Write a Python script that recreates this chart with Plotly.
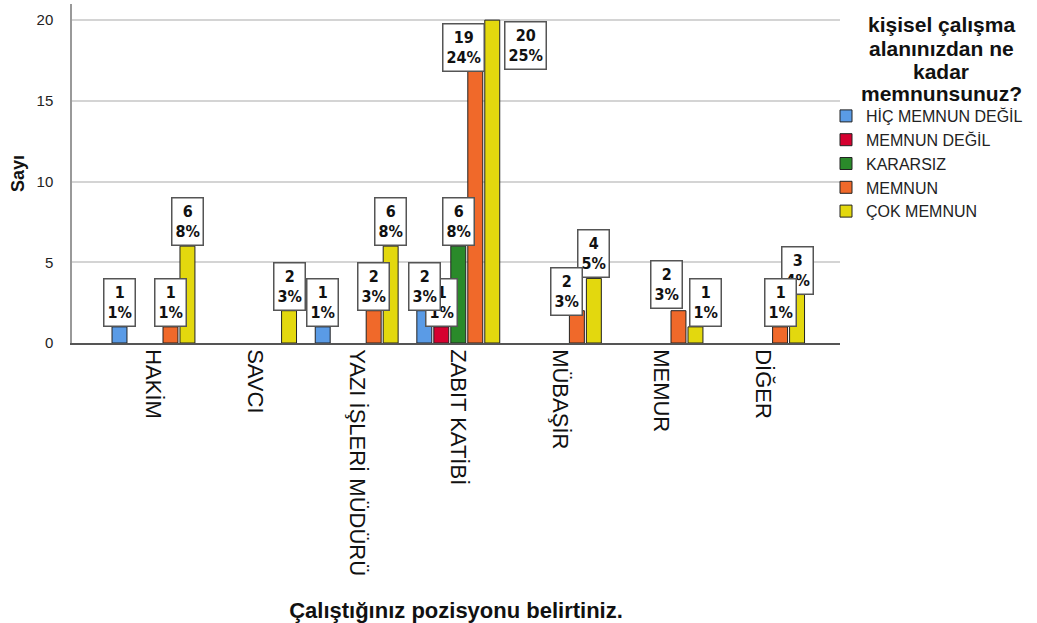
import math
import plotly.graph_objects as go

# ---- data ----
categories = ["HAKİM", "SAVCI", "YAZI İŞLERİ MÜDÜRÜ", "ZABIT KATİBİ", "MÜBAŞİR", "MEMUR", "DİĞER"]
series_names = ["HİÇ MEMNUN DEĞİL", "MEMNUN DEĞİL", "KARARSIZ", "MEMNUN", "ÇOK MEMNUN"]
hic_memnun_degil = [1, 0, 1, 2, 0, 0, 0]
memnun_degil = [0, 0, 0, 1, 0, 0, 0]
kararsiz = [0, 0, 0, 6, 0, 0, 0]
memnun = [1, 0, 2, 19, 2, 2, 1]
cok_memnun = [6, 2, 6, 20, 4, 1, 3]
y_ticks = [0, 5, 10, 15, 20]
legend_title_lines = ["kişisel çalışma", "alanınızdan ne", "kadar", "memnunsunuz?"]

series_values = [hic_memnun_degil, memnun_degil, kararsiz, memnun, cok_memnun]
colors = ["#5A9BE6", "#D5002F", "#2A8A2A", "#F0692A", "#E3D80E"]

total = sum(sum(s) for s in series_values)

# label nudges (pixels) to mimic the reference's collision handling
nudges = {
    (3, 3): (-12, -36),
    (3, 4): (33, -50),
    (4, 3): (-10, -5),
    (5, 3): (-12, 2),
    (5, 4): (10, 0),
}

W, H = 1037, 623
ML, MR, MT, MB = 72, 197, 4, 280
PW, PH = W - ML - MR, H - MT - MB

BARGAP = 0.164
NS = len(series_names)
slot = (1 - BARGAP) / NS

FONT = "Liberation Sans, Arial, sans-serif"
NARROW = "Liberation Sans Narrow, Arial Narrow, DejaVu Sans Condensed, sans-serif"

fig = go.Figure()
xs = list(range(len(categories)))
for k, (name, vals, col) in enumerate(zip(series_names, series_values, colors)):
    fig.add_trace(go.Bar(
        x=xs, y=[v if v > 0 else None for v in vals], name=name,
        marker=dict(color=col, line=dict(color="#222222", width=1)),
    ))

annotations = []
for k in reversed(range(NS)):
    vals = series_values[k]
    for i, v in enumerate(vals):
        if v <= 0:
            continue
        pct = math.floor(v / total * 100 + 0.5)
        dx, dy = nudges.get((i, k), (0, 0))
        annotations.append(dict(
            x=i - (1 - BARGAP) / 2 + (k + 0.5) * slot, y=v,
            xref="x", yref="y",
            text=f"<b>{v}<br>{pct}%</b>",
            showarrow=False, xanchor="center", yanchor="bottom",
            xshift=dx, yshift=dy,
            bgcolor="white", bordercolor="#555555", borderwidth=1.5, borderpad=3,
            font=dict(family=NARROW, size=16, color="#111111"),
        ))

# legend title, one annotation per line (tight line spacing as in the reference)
for j, line in enumerate(legend_title_lines):
    annotations.append(dict(
        x=(941 - ML) / PW, y=(H - (25 + 23 * j) - MB) / PH,
        xref="paper", yref="paper",
        text=f"<b>{line}</b>",
        showarrow=False, xanchor="center", yanchor="middle",
        font=dict(family=FONT, size=21, color="#111111"),
    ))

fig.update_layout(
    width=W, height=H,
    margin=dict(l=ML, r=MR, t=MT, b=MB, autoexpand=False),
    paper_bgcolor="white", plot_bgcolor="white",
    barmode="group", bargap=BARGAP, bargroupgap=0.12,
    font=dict(family=FONT, color="#111111"),
    showlegend=True,
    legend=dict(
        xref="container", yref="container",
        x=826 / W, y=1 - 99 / H, xanchor="left", yanchor="top",
        font=dict(family=FONT, size=16, color="#222222"),
        bgcolor="rgba(0,0,0,0)", itemwidth=30, tracegroupgap=0,
    ),
    annotations=annotations,
)

fig.update_xaxes(
    range=[-0.802, 6.757],
    tickmode="array", tickvals=xs, ticktext=categories,
    tickangle=90, tickfont=dict(family=FONT, size=22, color="#111111"),
    showgrid=False, zeroline=False,
    showline=True, linecolor="#555555", linewidth=1.5,
    ticks="", automargin=True,
    title=dict(text="<b>Çalıştığınız pozisyonu belirtiniz.</b>",
               font=dict(family=FONT, size=22, color="#111111"), standoff=29),
)
fig.update_yaxes(
    range=[0, 21],
    tickmode="array", tickvals=y_ticks,
    tickfont=dict(family=FONT, size=15, color="#222222"),
    showgrid=True, gridcolor="#D4D4D4", gridwidth=1.5,
    zeroline=False,
    showline=True, linecolor="#999999", linewidth=1.5,
    ticks="", ticklabelstandoff=14, automargin=True,
    title=dict(text="<b>Sayı</b>", font=dict(family=FONT, size=18, color="#111111"), standoff=7),
)

fig.write_html("out.html", config={"displayModeBar": False},
               post_script="document.body.style.margin='0px';")
